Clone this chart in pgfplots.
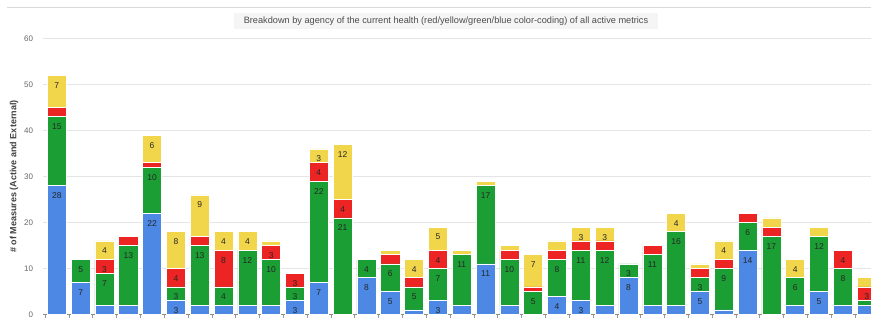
\documentclass[border=0pt]{standalone}
\usepackage{fontspec}
\setmainfont{Liberation Sans}
\usepackage{pgfplots}
\pgfplotsset{compat=1.18}
\usepackage{pgfplotstable}
\definecolor{cB}{HTML}{4C88E4}
\definecolor{cG}{HTML}{1B9E34}
\definecolor{cR}{HTML}{EC2424}
\definecolor{cY}{HTML}{F1D64C}
\pgfplotstableread{
x b g r y lb lg lr ly
0 28 15 2 7 28 15 {} 7
1 7 5 0 0 7 5 {} {}
2 2 7 3 4 {} 7 3 4
3 2 13 2 0 {} 13 {} {}
4 22 10 1 6 22 10 {} 6
5 3 3 4 8 3 3 4 8
6 2 13 2 9 {} 13 {} 9
7 2 4 8 4 {} 4 8 4
8 2 12 0 4 {} 12 {} 4
9 2 10 3 1 {} 10 3 {}
10 3 3 3 0 3 3 3 {}
11 7 22 4 3 7 22 4 3
12 0 21 4 12 {} 21 4 12
13 8 4 0 0 8 4 {} {}
14 5 6 2 1 5 6 {} {}
15 1 5 2 4 {} 5 {} 4
16 3 7 4 5 3 7 4 5
17 2 11 0 1 {} 11 {} {}
18 11 17 0 1 11 17 {} {}
19 2 10 2 1 {} 10 {} {}
20 0 5 1 7 {} 5 {} 7
21 4 8 2 2 4 8 {} {}
22 3 11 2 3 3 11 {} 3
23 2 12 2 3 {} 12 {} 3
24 8 3 0 0 8 3 {} {}
25 2 11 2 0 {} 11 {} {}
26 2 16 0 4 {} 16 {} 4
27 5 3 2 1 5 3 {} {}
28 1 9 2 4 {} 9 {} 4
29 14 6 2 0 14 6 {} {}
30 0 17 2 2 {} 17 {} {}
31 2 6 0 4 {} 6 {} 4
32 5 12 0 2 5 12 {} {}
33 2 8 4 0 {} 8 4 {}
34 2 1 3 2 {} {} 3 {}
}\data
\begin{document}
\begin{tikzpicture}[x=1pt,y=1pt]
\useasboundingbox (0,0) rectangle (871,317);
\draw[black!15] (7,310) -- (871,310);
\node[fill=black!4, inner xsep=10pt, inner ysep=4pt, text=black!70, font=\fontsize{9.2}{10}\selectfont] at (446,296) {Breakdown by agency of the current health (red/yellow/green/blue color-coding) of all active metrics};
\begin{axis}[
  at={(43pt,2.5pt)}, anchor=south west,
  width=828pt, height=276pt, scale only axis,
  ybar stacked, bar width=0.8,
  xmin=-0.58, xmax=34.18, ymin=0, ymax=60,
  ytick={0,10,...,60},
  xtick={-0.5,0.5,...,33.5}, xticklabels={},
  ymajorgrids, grid style={black!10},
  axis lines*=left, axis line style={-},
  y axis line style={draw=none},
  x axis line style={black!45},
  ytick style={draw=none},
  xtick style={black!40},
  tick align=outside, major tick length=3pt,
  /pgf/number format/assume math mode=true,
  yticklabel style={font=\fontsize{8}{9}\selectfont, text=black!60, xshift=-3.5pt},
  /pgfplots/every axis y label/.style={at={(axis description cs:-0.0350,0.5)}, rotate=90, anchor=center},
  ylabel={\# of Measures (Active and External)},
  ylabel style={font=\bfseries\fontsize{9}{10}\selectfont, text=black!75},
  point meta=explicit symbolic,
  nodes near coords,
  nodes near coords align={center},
  every node near coord/.append style={yshift={2.3*\hh-10}, font=\fontsize{8.5}{9}\selectfont, text=black!85},
]
\addplot[fill=cB, draw=white, line width=0.6pt, visualization depends on={\thisrow{b}\as\hh}] table[x=x,y=b,meta=lb]{\data};
\addplot[fill=cG, draw=white, line width=0.6pt, visualization depends on={\thisrow{g}\as\hh}] table[x=x,y=g,meta=lg]{\data};
\addplot[fill=cR, draw=white, line width=0.6pt, visualization depends on={\thisrow{r}\as\hh}] table[x=x,y=r,meta=lr]{\data};
\addplot[fill=cY, draw=white, line width=0.6pt, visualization depends on={\thisrow{y}\as\hh}] table[x=x,y=y,meta=ly]{\data};
\end{axis}
\end{tikzpicture}
\end{document}
